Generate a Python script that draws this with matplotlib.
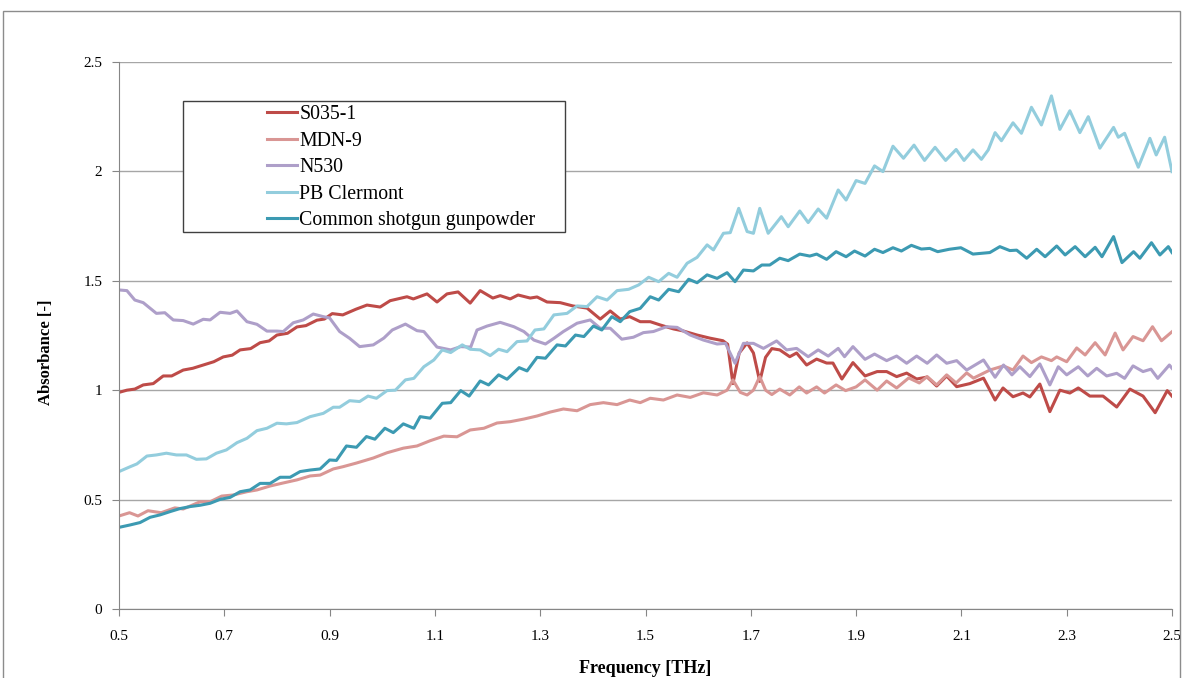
import matplotlib
matplotlib.use('Agg')
import matplotlib.pyplot as plt
from matplotlib.patches import Rectangle

plt.rcParams['font.family'] = ['Liberation Serif', 'DejaVu Serif']

# Absorbance spectra (frequency in THz, absorbance)
s035_f = [0.50, 0.515, 0.53, 0.546, 0.565, 0.584, 0.60, 0.622, 0.64, 0.66, 0.68, 0.698, 0.715, 0.73,
          0.75, 0.768, 0.785, 0.80, 0.82, 0.838, 0.855, 0.876, 0.89, 0.905, 0.925, 0.95, 0.971, 0.996,
          1.015, 1.047, 1.059, 1.085, 1.104, 1.123, 1.144, 1.167, 1.186, 1.21, 1.224, 1.243, 1.258,
          1.281, 1.294, 1.313, 1.338, 1.362, 1.389, 1.414, 1.433, 1.452, 1.47, 1.49, 1.509, 1.528,
          1.553, 1.571, 1.598, 1.622, 1.647, 1.656, 1.666, 1.678, 1.693, 1.705, 1.717, 1.728, 1.74,
          1.755, 1.774, 1.787, 1.806, 1.825, 1.844, 1.856, 1.873, 1.894, 1.917, 1.94, 1.958, 1.977,
          1.996, 2.015, 2.035, 2.053, 2.072, 2.091, 2.116, 2.142, 2.164, 2.179, 2.198, 2.217, 2.23,
          2.249, 2.268, 2.287, 2.306, 2.322, 2.344, 2.369, 2.395, 2.42, 2.445, 2.468, 2.491, 2.50]
s035_a = [0.99, 1.00, 1.005, 1.024, 1.03, 1.065, 1.065, 1.092, 1.10, 1.115, 1.13, 1.152, 1.16, 1.184,
          1.19, 1.217, 1.225, 1.252, 1.26, 1.289, 1.295, 1.32, 1.325, 1.35, 1.344, 1.37, 1.389, 1.38,
          1.409, 1.427, 1.417, 1.44, 1.403, 1.44, 1.449, 1.398, 1.455, 1.421, 1.432, 1.417, 1.435,
          1.421, 1.426, 1.403, 1.40, 1.385, 1.375, 1.325, 1.362, 1.325, 1.336, 1.313, 1.313, 1.298,
          1.28, 1.271, 1.252, 1.238, 1.226, 1.21, 1.03, 1.17, 1.216, 1.17, 1.04, 1.15, 1.19,
          1.184, 1.153, 1.17, 1.115, 1.142, 1.124, 1.124, 1.051, 1.126, 1.065, 1.085, 1.085, 1.062,
          1.078, 1.051, 1.06, 1.019, 1.065, 1.016, 1.03, 1.055, 0.955, 1.01, 0.97, 0.987, 0.969,
          1.028, 0.902, 1.00, 0.987, 1.01, 0.973, 0.973, 0.923, 1.005, 0.973, 0.897, 0.998, 0.973]

mdn_f = [0.50, 0.52, 0.536, 0.555, 0.58, 0.606, 0.622, 0.654, 0.673, 0.695, 0.717, 0.743, 0.762, 0.787,
         0.812, 0.838, 0.863, 0.882, 0.907, 0.925, 0.951, 0.983, 1.009, 1.04, 1.066, 1.091, 1.117,
         1.142, 1.167, 1.193, 1.218, 1.243, 1.269, 1.294, 1.319, 1.344, 1.37, 1.395, 1.42, 1.446,
         1.47, 1.49, 1.509, 1.534, 1.56, 1.585, 1.61, 1.636, 1.655, 1.666, 1.68, 1.693, 1.705, 1.717,
         1.728, 1.74, 1.755, 1.774, 1.792, 1.806, 1.825, 1.84, 1.862, 1.88, 1.90, 1.917, 1.94, 1.958,
         1.977, 2.00, 2.02, 2.035, 2.053, 2.072, 2.09, 2.11, 2.123, 2.154, 2.18, 2.198, 2.217, 2.233,
         2.252, 2.271, 2.281, 2.30, 2.319, 2.335, 2.354, 2.373, 2.392, 2.407, 2.426, 2.445, 2.463,
         2.48, 2.50]
mdn_a = [0.425, 0.44, 0.425, 0.449, 0.44, 0.462, 0.457, 0.49, 0.49, 0.516, 0.521, 0.536, 0.544, 0.562,
         0.576, 0.59, 0.608, 0.612, 0.64, 0.65, 0.667, 0.69, 0.714, 0.735, 0.745, 0.769, 0.79,
         0.787, 0.818, 0.826, 0.85, 0.856, 0.868, 0.882, 0.90, 0.914, 0.906, 0.934, 0.943, 0.934,
         0.955, 0.943, 0.963, 0.955, 0.978, 0.967, 0.988, 0.978, 1.00, 1.047, 0.99, 0.978, 1.00, 1.062,
         1.00, 0.98, 1.005, 0.978, 1.015, 0.987, 1.015, 0.987, 1.024, 0.998, 1.015, 1.047, 1.00, 1.042,
         1.01, 1.056, 1.033, 1.062, 1.024, 1.07, 1.033, 1.079, 1.055, 1.092, 1.111, 1.092, 1.156, 1.126,
         1.152, 1.135, 1.152, 1.13, 1.193, 1.161, 1.217, 1.161, 1.261, 1.184, 1.245, 1.226, 1.29,
         1.226, 1.267]

n530_f = [0.50, 0.515, 0.53, 0.546, 0.571, 0.587, 0.603, 0.622, 0.641, 0.66, 0.673, 0.692, 0.711, 0.724,
          0.743, 0.762, 0.781, 0.80, 0.812, 0.831, 0.85, 0.869, 0.888, 0.90, 0.919, 0.938, 0.957, 0.983,
          1.003, 1.019, 1.044, 1.066, 1.079, 1.104, 1.13, 1.149, 1.168, 1.18, 1.199, 1.224, 1.25, 1.269,
          1.288, 1.31, 1.326, 1.344, 1.37, 1.395, 1.414, 1.433, 1.455, 1.477, 1.496, 1.515, 1.54, 1.56,
          1.585, 1.61, 1.636, 1.652, 1.67, 1.686, 1.705, 1.724, 1.749, 1.768, 1.787, 1.809, 1.828,
          1.847, 1.866, 1.878, 1.894, 1.917, 1.935, 1.958, 1.977, 1.996, 2.015, 2.035, 2.053, 2.072,
          2.091, 2.11, 2.142, 2.164, 2.18, 2.196, 2.211, 2.23, 2.249, 2.268, 2.284, 2.30, 2.322, 2.34,
          2.357, 2.376, 2.395, 2.41, 2.426, 2.445, 2.46, 2.473, 2.495, 2.50]
n530_a = [1.458, 1.455, 1.412, 1.40, 1.351, 1.354, 1.321, 1.318, 1.302, 1.324, 1.321, 1.356, 1.351, 1.362,
          1.313, 1.301, 1.27, 1.27, 1.268, 1.308, 1.321, 1.348, 1.336, 1.33, 1.268, 1.237, 1.199, 1.207,
          1.238, 1.275, 1.302, 1.272, 1.268, 1.197, 1.184, 1.199, 1.197, 1.275, 1.293, 1.31, 1.29, 1.268,
          1.229, 1.211, 1.237, 1.268, 1.306, 1.321, 1.283, 1.283, 1.233, 1.242, 1.263, 1.268, 1.29, 1.287,
          1.252, 1.229, 1.211, 1.214, 1.123, 1.214, 1.214, 1.191, 1.225, 1.184, 1.191, 1.153, 1.184,
          1.156, 1.191, 1.153, 1.199, 1.141, 1.165, 1.135, 1.156, 1.123, 1.156, 1.123, 1.161, 1.123,
          1.135, 1.092, 1.138, 1.059, 1.115, 1.07, 1.107, 1.062, 1.12, 1.024, 1.107, 1.07, 1.107, 1.065,
          1.10, 1.065, 1.077, 1.054, 1.111, 1.085, 1.096, 1.054, 1.115, 1.10]

pb_f = [0.50, 0.521, 0.534, 0.553, 0.571, 0.59, 0.609, 0.628, 0.647, 0.666, 0.685, 0.704, 0.724, 0.743,
        0.762, 0.781, 0.80, 0.818, 0.838, 0.863, 0.888, 0.907, 0.919, 0.938, 0.957, 0.973, 0.989, 1.009,
        1.025, 1.044, 1.06, 1.079, 1.098, 1.114, 1.13, 1.152, 1.167, 1.186, 1.205, 1.221, 1.237, 1.256,
        1.275, 1.29, 1.307, 1.326, 1.351, 1.37, 1.389, 1.408, 1.427, 1.446, 1.468, 1.487, 1.506, 1.525,
        1.544, 1.56, 1.579, 1.598, 1.617, 1.629, 1.648, 1.661, 1.677, 1.693, 1.705, 1.717, 1.733, 1.758,
        1.771, 1.793, 1.809, 1.828, 1.844, 1.866, 1.881, 1.90, 1.917, 1.935, 1.951, 1.97, 1.99, 2.01,
        2.03, 2.05, 2.07, 2.09, 2.105, 2.122, 2.138, 2.151, 2.164, 2.176, 2.198, 2.214, 2.233, 2.252,
        2.271, 2.287, 2.306, 2.325, 2.341, 2.363, 2.389, 2.398, 2.41, 2.436, 2.458, 2.47, 2.486, 2.50]
pb_a = [0.628, 0.65, 0.663, 0.699, 0.704, 0.712, 0.704, 0.704, 0.684, 0.686, 0.712, 0.727, 0.76, 0.78,
        0.815, 0.826, 0.849, 0.846, 0.852, 0.879, 0.894, 0.922, 0.922, 0.952, 0.948, 0.973, 0.963, 0.998,
        1.00, 1.047, 1.054, 1.107, 1.138, 1.184, 1.172, 1.207, 1.187, 1.184, 1.158, 1.187, 1.176, 1.222,
        1.225, 1.275, 1.28, 1.344, 1.351, 1.385, 1.382, 1.427, 1.412, 1.455, 1.461, 1.481, 1.516, 1.496,
        1.534, 1.516, 1.58, 1.607, 1.664, 1.641, 1.717, 1.72, 1.831, 1.725, 1.717, 1.831, 1.717, 1.793,
        1.747, 1.819, 1.766, 1.828, 1.786, 1.915, 1.869, 1.958, 1.945, 2.025, 1.999, 2.115, 2.06, 2.12,
        2.05, 2.11, 2.05, 2.10, 2.05, 2.098, 2.055, 2.098, 2.177, 2.14, 2.222, 2.174, 2.293, 2.212,
        2.345, 2.192, 2.277, 2.177, 2.25, 2.106, 2.201, 2.156, 2.174, 2.019, 2.151, 2.075, 2.156, 1.999]

gun_f = [0.50, 0.521, 0.54, 0.559, 0.578, 0.597, 0.616, 0.635, 0.654, 0.673, 0.692, 0.711, 0.73, 0.749,
         0.768, 0.787, 0.806, 0.825, 0.844, 0.863, 0.882, 0.90, 0.913, 0.932, 0.951, 0.97, 0.986, 1.005,
         1.021, 1.04, 1.06, 1.072, 1.091, 1.114, 1.13, 1.149, 1.165, 1.186, 1.202, 1.221, 1.237, 1.26,
         1.275, 1.294, 1.31, 1.332, 1.348, 1.367, 1.383, 1.401, 1.417, 1.436, 1.452, 1.47, 1.49, 1.509,
         1.525, 1.544, 1.563, 1.582, 1.598, 1.617, 1.636, 1.655, 1.67, 1.686, 1.705, 1.721, 1.736, 1.755,
         1.771, 1.793, 1.812, 1.825, 1.844, 1.862, 1.881, 1.897, 1.917, 1.935, 1.951, 1.97, 1.986, 2.005,
         2.024, 2.04, 2.055, 2.077, 2.099, 2.122, 2.154, 2.173, 2.192, 2.205, 2.224, 2.243, 2.259, 2.281,
         2.297, 2.316, 2.335, 2.354, 2.367, 2.389, 2.405, 2.427, 2.439, 2.461, 2.477, 2.493, 2.50]
gun_a = [0.373, 0.384, 0.395, 0.419, 0.43, 0.445, 0.459, 0.468, 0.474, 0.483, 0.501, 0.51, 0.536, 0.544,
         0.574, 0.574, 0.602, 0.602, 0.628, 0.635, 0.64, 0.681, 0.679, 0.745, 0.739, 0.788, 0.776, 0.826,
         0.806, 0.846, 0.826, 0.879, 0.872, 0.94, 0.943, 0.998, 0.973, 1.042, 1.024, 1.07, 1.05, 1.103,
         1.088, 1.15, 1.146, 1.207, 1.202, 1.252, 1.245, 1.293, 1.275, 1.336, 1.313, 1.359, 1.374, 1.427,
         1.412, 1.461, 1.45, 1.507, 1.491, 1.527, 1.511, 1.537, 1.496, 1.549, 1.545, 1.572, 1.572, 1.603,
         1.592, 1.622, 1.613, 1.622, 1.598, 1.633, 1.61, 1.636, 1.613, 1.644, 1.629, 1.651, 1.636, 1.662,
         1.645, 1.648, 1.633, 1.644, 1.651, 1.622, 1.629, 1.656, 1.638, 1.64, 1.603, 1.644, 1.61, 1.659,
         1.618, 1.656, 1.61, 1.653, 1.61, 1.702, 1.583, 1.633, 1.603, 1.674, 1.618, 1.656, 1.629]

series = [
    ('S035-1', s035_f, s035_a, '#BE4B48'),
    ('MDN-9', mdn_f, mdn_a, '#D99694'),
    ('N530', n530_f, n530_a, '#AE9FC9'),
    ('PB Clermont', pb_f, pb_a, '#93CDDD'),
    ('Common shotgun gunpowder', gun_f, gun_a, '#3C9AB2'),
]

x_ticks = [0.5, 0.7, 0.9, 1.1, 1.3, 1.5, 1.7, 1.9, 2.1, 2.3, 2.5]
y_ticks = [0, 0.5, 1, 1.5, 2, 2.5]
y_tick_labels = ['0', '0.5', '1', '1.5', '2', '2.5']

fig = plt.figure(figsize=(11.83, 6.78), dpi=100)
ax = fig.add_axes([0.1006, 0.1018, 0.8901, 0.8068])

for name, f, a, c in series:
    ax.plot(f, a, color=c, lw=2.2, label=name, zorder=2, solid_joinstyle='round')

ax.set_xlim(0.5, 2.5)
ax.set_ylim(0, 2.5)
ax.set_xticks(x_ticks)
ax.set_xticklabels([str(t) for t in x_ticks], fontsize=11)
ax.set_yticks(y_ticks)
ax.set_yticklabels(y_tick_labels, fontsize=11)
ax.tick_params(axis='x', length=5, pad=10, color='#868686')
ax.tick_params(axis='y', length=5, pad=7, color='#868686')
ax.grid(axis='y', color='#A6A6A6', lw=1)
ax.set_axisbelow(True)
for s in ['top', 'right']:
    ax.spines[s].set_visible(False)
for s in ['left', 'bottom']:
    ax.spines[s].set_color('#868686')

ax.set_xlabel('Frequency [THz]', fontsize=13, fontweight='bold')
ax.xaxis.set_label_coords(0.5, -0.093)
ax.set_ylabel('Absorbance [-]', fontsize=12, fontweight='bold')
ax.yaxis.set_label_coords(-0.062, 0.47)

# legend box drawn separately, entries sit inside it
ax.add_patch(Rectangle((0.0608, 0.689), 0.3628, 0.2397, transform=ax.transAxes,
                       facecolor='white', edgecolor='#404040', lw=1, zorder=3))
leg = ax.legend(loc='upper left', bbox_to_anchor=(0.1405, 0.921), frameon=False,
                fontsize=14.3, handlelength=1.5, handletextpad=0.12, labelspacing=0.38,
                borderpad=0, borderaxespad=0)
leg.set_zorder(4)

# outer chart frame
fig.patches.append(Rectangle((3 / 1183, -0.05), 1177 / 1183, 1.0338, transform=fig.transFigure,
                             facecolor='none', edgecolor='#8C8C8C', lw=1))

fig.savefig('out.png', dpi=100)
